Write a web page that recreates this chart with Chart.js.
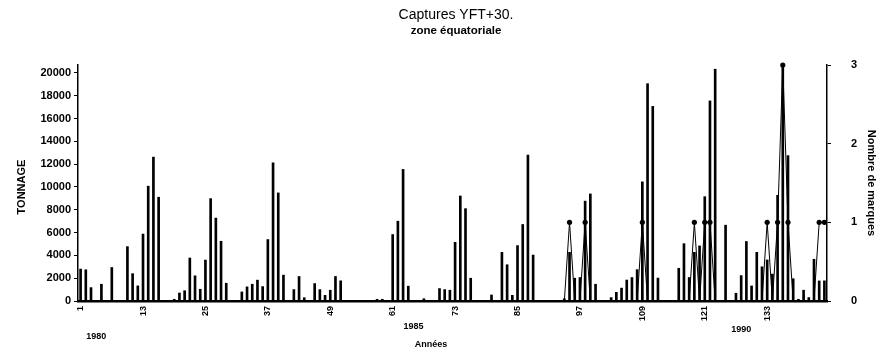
<!DOCTYPE html>
<html>
<head>
<meta charset="UTF-8">
<script src="https://cdn.jsdelivr.net/npm/chart.js@4.4.1/dist/chart.umd.min.js"></script>
<style>
  body { margin: 0; background: #fff; }
  canvas { display: block; }
</style>
</head>
<body>
<canvas id="chart" width="888" height="351"></canvas>
<script>
// captures mensuelles (tonnes), mois 1 = janvier 1980
const tonnage = [
  2800, 2740, 1175, 0, 1470, 0, 2940, 0, 0, 4770, 2400, 1325,
  5870, 10070, 12620, 9100, 0, 0, 150, 700, 900, 3770, 2210, 1030,
  3590, 8980, 7270, 5240, 1560, 0, 0, 795, 1240, 1470, 1830, 1265,
  5390, 12120, 9480, 2270, 0, 1000, 2150, 290, 0, 1530, 1000, 500,
  945, 2150, 1770, 0, 0, 0, 0, 0, 0, 150, 150, 0,
  5830, 7000, 11540, 1300, 0, 0, 200, 0, 0, 1090, 1000, 945,
  5150, 9210, 8100, 2000, 0, 0, 0, 530, 0, 4270, 3180, 500,
  4860, 6710, 12800, 4030, 0, 0, 0, 0, 0, 200, 4270, 2000,
  2060, 8760, 9390, 1470, 0, 0, 300, 760, 1130, 1840, 2060, 2750,
  10450, 19060, 17070, 2010, 0, 0, 0, 2870, 5030, 2060, 4270, 4830,
  9150, 17550, 20330, 0, 6650, 0, 680, 2230, 5220, 1320, 4270, 3000,
  3600, 2360, 9270, 20700, 12750, 1950, 150, 945, 300, 3660, 1760, 1770
];

// nombre de marques par mois
const marques = [
  0, 0, 0, 0, 0, 0, 0, 0, 0, 0, 0, 0,
  0, 0, 0, 0, 0, 0, 0, 0, 0, 0, 0, 0,
  0, 0, 0, 0, 0, 0, 0, 0, 0, 0, 0, 0,
  0, 0, 0, 0, 0, 0, 0, 0, 0, 0, 0, 0,
  0, 0, 0, 0, 0, 0, 0, 0, 0, 0, 0, 0,
  0, 0, 0, 0, 0, 0, 0, 0, 0, 0, 0, 0,
  0, 0, 0, 0, 0, 0, 0, 0, 0, 0, 0, 0,
  0, 0, 0, 0, 0, 0, 0, 0, 0, 0, 1, 0,
  0, 1, 0, 0, 0, 0, 0, 0, 0, 0, 0, 0,
  1, 0, 0, 0, 0, 0, 0, 0, 0, 0, 1, 0,
  1, 1, 0, 0, 0, 0, 0, 0, 0, 0, 0, 0,
  1, 0, 1, 3, 1, 0, 0, 0, 0, 0, 1, 1
];

const mois = tonnage.map((v, i) => String(i + 1));
const moisAffiches = ['1', '13', '25', '37', '49', '61', '73', '85', '97', '109', '121', '133'];
const tonnageTicks = [0, 2000, 4000, 6000, 8000, 10000, 12000, 14000, 16000, 18000, 20000];
const marquesTicks = [0, 1, 2, 3];
const annees = ['1980', '1985', '1990'];
const anneesMois = ['4', '65', '128'];
const titre = ['Captures YFT+30.', 'zone équatoriale'];

const police = '"Liberation Sans", Arial, sans-serif';

const textes = {
  id: 'textes',
  afterDraw(chart) {
    const ctx = chart.ctx;
    const x = chart.scales.x;
    ctx.save();
    ctx.fillStyle = '#000';
    ctx.textAlign = 'center';
    ctx.textBaseline = 'middle';

    ctx.font = '14px ' + police;
    ctx.fillText(titre[0], 456, 15);
    ctx.font = 'bold 11.5px ' + police;
    ctx.fillText(titre[1], 456, 31);

    ctx.font = 'bold 9px ' + police;
    const ys = [337, 327, 330];
    annees.forEach((a, i) => {
      ctx.fillText(a, x.getPixelForValue(mois.indexOf(anneesMois[i])), ys[i]);
    });
    ctx.fillText('Années', 431, 345);

    ctx.font = 'bold 11px ' + police;
    ctx.save();
    ctx.translate(22, 187);
    ctx.rotate(-Math.PI / 2);
    ctx.fillText('TONNAGE', 0, 0);
    ctx.restore();

    ctx.save();
    ctx.translate(871, 183);
    ctx.rotate(Math.PI / 2);
    ctx.fillText('Nombre de marques', 0, 0);
    ctx.restore();

    ctx.restore();
  }
};

new Chart(document.getElementById('chart'), {
  type: 'bar',
  data: {
    labels: mois,
    datasets: [
      {
        type: 'line',
        label: 'Nombre de marques',
        data: marques,
        yAxisID: 'y1',
        borderColor: '#000',
        borderWidth: 1,
        tension: 0,
        pointRadius: c => (c.raw > 0 ? 2.6 : 0),
        pointBackgroundColor: '#000',
        pointBorderWidth: 0,
        clip: false,
        order: 0
      },
      {
        label: 'Tonnage',
        data: tonnage,
        yAxisID: 'y',
        backgroundColor: '#000',
        barThickness: 2,
        clip: false,
        order: 1
      }
    ]
  },
  options: {
    responsive: false,
    animation: false,
    devicePixelRatio: 1,
    layout: { padding: { top: 65, left: 0, right: 0, bottom: 0 } },
    plugins: { legend: { display: false }, tooltip: { enabled: false }, title: { display: false } },
    scales: {
      x: {
        type: 'category',
        offset: true,
        afterFit(s) { s.height = 50; },
        grid: { drawOnChartArea: false, drawTicks: false },
        border: { color: '#000', width: 2.5 },
        ticks: {
          autoSkip: false,
          minRotation: 90,
          maxRotation: 90,
          padding: 5,
          color: '#000',
          font: { family: police, size: 9, weight: 'bold' },
          callback(v) {
            const l = this.getLabelForValue(v);
            return moisAffiches.includes(l) ? l : '';
          }
        }
      },
      y: {
        position: 'left',
        min: 0,
        max: 20700,
        afterBuildTicks(s) { s.ticks = tonnageTicks.map(v => ({ value: v })); },
        afterFit(s) { s.width = 78; },
        grid: { drawOnChartArea: false, tickLength: 4, color: '#000' },
        border: { color: '#000', width: 1.5 },
        ticks: {
          color: '#000',
          padding: 3,
          font: { family: police, size: 11, weight: 'bold' },
          callback: v => String(v)
        }
      },
      y1: {
        position: 'right',
        min: 0,
        max: 3,
        afterBuildTicks(s) { s.ticks = marquesTicks.map(v => ({ value: v })); },
        afterFit(s) { s.width = 61; },
        grid: { drawOnChartArea: false, tickLength: 4, color: '#000' },
        border: { color: '#000', width: 1.5 },
        ticks: {
          color: '#000',
          padding: 20,
          font: { family: police, size: 11, weight: 'bold' },
          callback: v => String(v)
        }
      }
    }
  },
  plugins: [textes]
});
</script>
</body>
</html>
